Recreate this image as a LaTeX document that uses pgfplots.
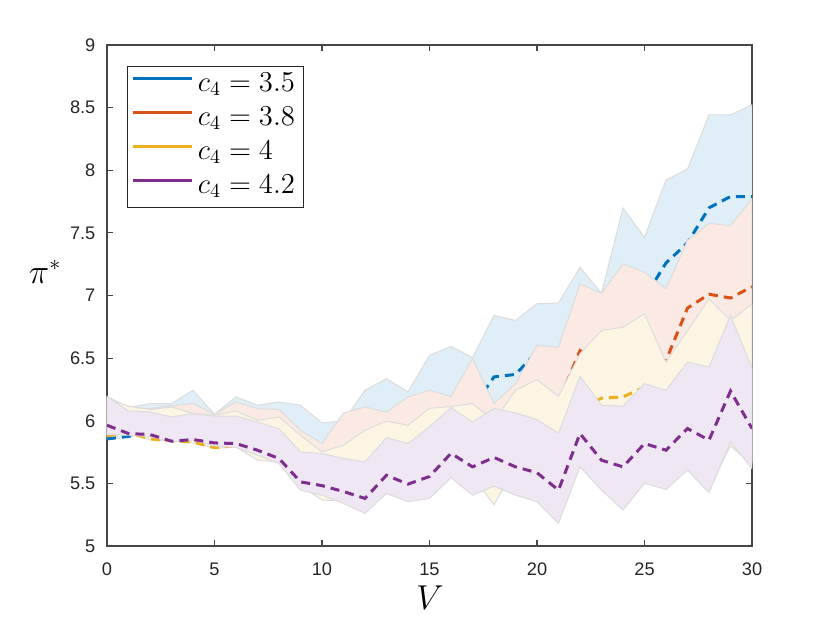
\documentclass[border=0pt]{standalone}
\usepackage{fontspec}
\setmainfont{Liberation Sans}
\usepackage{pgfplots}
\pgfplotsset{compat=1.18}
\usepackage{pgfplotstable}

\definecolor{mblue}{RGB}{0,114,189}
\definecolor{morange}{RGB}{217,83,25}
\definecolor{myellow}{RGB}{237,177,32}
\definecolor{mpurple}{RGB}{126,47,142}
\definecolor{bandB}{RGB}{224,238,247}
\definecolor{bandO}{RGB}{250,234,227}
\definecolor{bandY}{RGB}{252,245,228}
\definecolor{bandP}{RGB}{239,231,243}
\definecolor{edgeg}{RGB}{220,220,220}
\definecolor{axcol}{RGB}{38,38,38}
\definecolor{axline}{RGB}{70,70,70}

% mean lines
\pgfplotstableread{
x  b      o     y      p
0  5.855  5.92  5.88   5.964
1  5.875  5.93  5.905  5.898
2  5.92   5.93  5.855  5.89
3  5.93   5.92  5.84   5.837
4  5.95   5.93  5.83   5.850
5  5.93   5.90  5.785  5.823
6  5.95   5.92  5.80   5.818
7  5.93   5.88  5.75   5.765
8  5.90   5.85  5.72   5.699
9  5.80   5.70  5.60   5.512
10 5.70   5.65  5.55   5.482
11 5.80   5.70  5.55   5.435
12 5.85   5.75  5.60   5.380
13 5.95   5.80  5.70   5.565
14 5.95   5.85  5.68   5.494
15 6.05   5.90  5.78   5.555
16 6.05   5.95  5.85   5.740
17 6.10   5.95  5.82   5.632
18 6.35   5.90  5.80   5.707
19 6.37   6.00  5.88   5.632
20 6.55   6.10  5.90   5.585
21 6.50   6.15  5.70   5.446
22 6.75   6.56  6.10   5.898
23 6.85   6.45  6.18   5.685
24 6.95   6.50  6.19   5.632
25 6.98   6.45  6.27   5.818
26 7.26   6.48  6.10   5.765
27 7.42   6.90  6.30   5.938
28 7.70   7.01  6.30   5.845
29 7.79   6.98  6.50   6.237
30 7.79   7.07  6.25   5.938
}\lines

\begin{document}
\begin{tikzpicture}
\begin{axis}[
  at={(0,0)}, anchor=south west,
  scale only axis, width=322.5pt, height=250.5pt,
  xmin=0, xmax=30, ymin=5, ymax=9,
  xtick={0,5,...,30}, ytick={5,5.5,...,9},
  /pgf/number format/assume math mode=true,
  /pgf/number format/fixed,
  tick label style={font=\fontsize{9.1}{11}\selectfont, text=axcol},
  xticklabel style={yshift=-5pt},
  yticklabel style={xshift=-2.3pt},
  tick align=inside, major tick length=3pt,
  axis line style={axline, line width=0.55pt},
  every tick/.style={axline, line width=0.55pt},
  xlabel={$V$}, ylabel={$\pi^*$},
  label style={font=\fontsize{16}{18}\selectfont},
  xlabel style={at={(axis description cs:0.5008,0)}, anchor=center, yshift=-26pt},
  ylabel style={at={(axis description cs:-0.096,0.547)}, anchor=center, rotate=-90},
  legend style={at={(axis description cs:0.0315,0.958)}, anchor=north west,
    draw=axcol, line width=0.5pt, fill=white,
    inner xsep=1.7pt, inner ysep=2.4pt, row sep=2.5pt, column sep=0pt,
    font=\fontsize{13.7}{17}\selectfont,
    nodes={inner xsep=2.35pt, inner ysep=0pt, text height=10pt, text depth=4.5pt}},
  legend cell align=left,
  legend image code/.code={\draw[#1, solid, line width=1.5pt] (0pt,3.5pt) -- (29.5pt,3.5pt);},
  clip=true,
]
% ---- c4 = 3.5 band
\addplot[fill=bandB, draw=edgeg, line width=0.5pt, forget plot] coordinates {
(0,6.195)(1,6.105)(2,6.137)(3,6.137)(4,6.243)(5,6.052)(6,6.190)(7,6.124)(8,6.150)(9,6.124)
(10,5.983)(11,5.998)(12,6.243)(13,6.336)(14,6.230)(15,6.522)(16,6.594)(17,6.504)(18,6.841)(19,6.801)
(20,6.934)(21,6.940)(22,7.225)(23,7.018)(24,7.699)(25,7.465)(26,7.922)(27,8.010)(28,8.442)(29,8.442)(30,8.522)
(30,5.68)(29,5.89)(28,5.48)(27,5.67)(26,5.51)(25,5.56)(24,5.35)(23,5.51)(22,5.69)(21,5.24)
(20,5.41)(19,5.47)(18,5.53)(17,5.47)(16,5.61)(15,5.44)(14,5.41)(13,5.48)(12,5.32)(11,5.40)
(10,5.46)(9,5.50)(8,5.71)(7,5.77)(6,5.84)(5,5.85)(4,5.88)(3,5.88)(2,5.91)(1,5.87)(0,5.85)
} -- cycle;
\addplot[mblue, line width=1.5pt, dash pattern=on 4.5pt off 3pt] table[x=x, y=b] {\lines};
\addlegendentry{$c_4 = 3.5$}
% ---- c4 = 3.8 band
\addplot[fill=bandO, draw=edgeg, line width=0.5pt, forget plot] coordinates {
(0,6.19)(1,6.105)(2,6.097)(3,6.12)(4,6.137)(5,6.052)(6,6.150)(7,6.097)(8,6.089)(9,5.924)
(10,5.818)(11,6.062)(12,6.110)(13,6.070)(14,6.190)(15,6.243)(16,6.195)(17,6.495)(18,6.137)(19,6.296)
(20,6.602)(21,6.588)(22,7.093)(23,7.018)(24,7.253)(25,7.186)(26,7.053)(27,7.44)(28,7.576)(29,7.558)(30,7.771)
(30,5.67)(29,5.88)(28,5.47)(27,5.66)(26,5.50)(25,5.55)(24,5.34)(23,5.50)(22,5.68)(21,5.23)
(20,5.40)(19,5.46)(18,5.52)(17,5.46)(16,5.60)(15,5.43)(14,5.40)(13,5.47)(12,5.31)(11,5.39)
(10,5.45)(9,5.49)(8,5.70)(7,5.76)(6,5.83)(5,5.84)(4,5.87)(3,5.87)(2,5.90)(1,5.90)(0,5.88)
} -- cycle;
\addplot[morange, line width=1.5pt, dash pattern=on 4.5pt off 3pt] table[x=x, y=o] {\lines};
\addlegendentry{$c_4 = 3.8$}
% ---- c4 = 4 band
\addplot[fill=bandY, draw=edgeg, line width=0.5pt, forget plot] coordinates {
(0,6.18)(1,6.116)(2,6.09)(3,6.110)(4,6.057)(5,6.044)(6,6.078)(7,6.004)(8,6.030)(9,5.884)
(10,5.751)(11,5.805)(12,5.924)(13,5.998)(14,5.964)(15,6.100)(16,6.113)(17,6.137)(18,6.00)(19,6.243)
(20,6.328)(21,6.195)(22,6.535)(23,6.721)(24,6.747)(25,6.854)(26,6.47)(27,6.72)(28,6.974)(29,6.80)(30,6.934)
(30,5.65)(29,5.80)(28,5.46)(27,5.64)(26,5.49)(25,5.54)(24,5.32)(23,5.48)(22,5.67)(21,5.22)
(20,5.39)(19,5.63)(18,5.33)(17,5.554)(16,5.58)(15,5.41)(14,5.38)(13,5.45)(12,5.29)(11,5.36)
(10,5.367)(9,5.48)(8,5.67)(7,5.685)(6,5.79)(5,5.78)(4,5.825)(3,5.835)(2,5.85)(1,5.90)(0,5.875)
} -- cycle;
\addplot[myellow, line width=1.5pt, dash pattern=on 4.5pt off 3pt] table[x=x, y=y] {\lines};
\addlegendentry{$c_4 = 4$}
% ---- c4 = 4.2 band
\addplot[fill=bandP, draw=edgeg, line width=0.5pt, forget plot] coordinates {
(0,6.195)(1,6.078)(2,6.070)(3,6.030)(4,6.057)(5,6.038)(6,6.036)(7,5.990)(8,5.937)(9,5.751)
(10,5.738)(11,5.699)(12,5.672)(13,5.866)(14,5.818)(15,5.951)(16,6.105)(17,5.990)(18,6.097)(19,6.062)
(20,6.009)(21,5.900)(22,6.355)(23,6.124)(24,6.116)(25,6.296)(26,6.243)(27,6.469)(28,6.429)(29,6.840)(30,6.420)
(30,5.619)(29,5.831)(28,5.425)(27,5.606)(26,5.452)(25,5.500)(24,5.287)(23,5.446)(22,5.632)(21,5.181)
(20,5.353)(19,5.406)(18,5.478)(17,5.406)(16,5.545)(15,5.380)(14,5.353)(13,5.420)(12,5.260)(11,5.340)
(10,5.406)(9,5.446)(8,5.659)(7,5.725)(6,5.786)(5,5.800)(4,5.845)(3,5.831)(2,5.875)(1,5.885)(0,5.89)
} -- cycle;
\addplot[mpurple, line width=1.5pt, dash pattern=on 4.5pt off 3pt] table[x=x, y=p] {\lines};
\addlegendentry{$c_4 = 4.2$}
\end{axis}
\pgfresetboundingbox
\path[use as bounding box] (-53.5pt,-38.5pt) rectangle (361.5pt,273pt);
\end{tikzpicture}
\end{document}
